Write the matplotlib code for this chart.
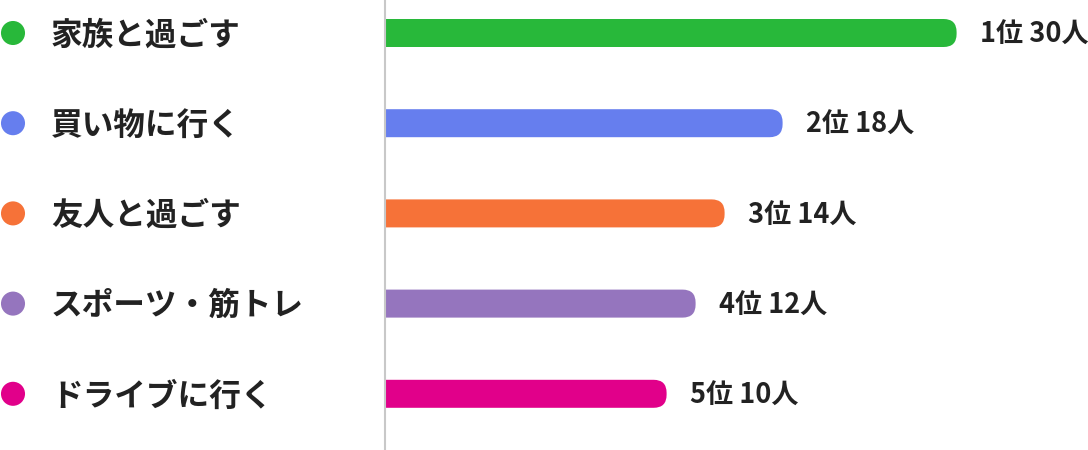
import matplotlib
matplotlib.use('Agg')
import matplotlib.pyplot as plt
from matplotlib import transforms
from matplotlib.patches import FancyBboxPatch

plt.rcParams['font.family'] = ['Noto Sans CJK JP', 'DejaVu Sans']

# data
activities = ['家族と過ごす', '買い物に行く', '友人と過ごす', 'スポーツ・筋トレ', 'ドライブに行く']
counts = [30, 18, 14, 12, 10]
ranks = [1, 2, 3, 4, 5]
colors = ['#28b83a', '#667eee', '#f67238', '#9575be', '#e1008a']

W, H, DPI = 1088, 450, 100
px_per_unit = 14.5      # horizontal scale of the bars
zero_px = 521.6         # pixel position of value 0
row_px = 90.2           # spacing of rows
first_row_px = 33       # centre of first row from top
line_px = 385           # left edge of the bar area

fig = plt.figure(figsize=(W / DPI, H / DPI), dpi=DPI)
ax = fig.add_axes([line_px / W, 0, 1 - line_px / W, 1])
x0 = (line_px - zero_px) / px_per_unit
x1 = (W - zero_px) / px_per_unit
ax.set_xlim(x0, x1)
ax.set_ylim((H - first_row_px) / row_px, -first_row_px / row_px)
ax.axis('off')

bar_h = 28 / row_px
radius = 13 / px_per_unit
aspect = (1 / row_px) / (1 / px_per_unit)

for i, (v, c) in enumerate(zip(counts, colors)):
    # start left of the axes so only the right end shows rounded
    left = x0 - 2 * radius
    p = FancyBboxPatch((left, i - bar_h / 2), v - left, bar_h,
                       boxstyle='round,pad=0,rounding_size=%f' % radius,
                       mutation_aspect=aspect, fc=c, ec='none')
    ax.add_patch(p)
    ax.annotate('%d位 %d人' % (ranks[i], v), xy=(v, i), xytext=(17, -1.5),
                textcoords='offset points', va='center', ha='left',
                fontsize=19.5, fontweight='bold', color='#222222')

# grey axis line
ax.axvline(x0, color='#c8c8c8', lw=1.5, clip_on=False)

# left legend: dots and labels
blend = transforms.blended_transform_factory(fig.transFigure, ax.transData)
rows = list(range(len(activities)))
ax.scatter([13 / W] * len(rows), rows, s=300, c=colors, transform=blend,
           clip_on=False, linewidths=0)
for i, name in enumerate(activities):
    ax.text(51 / W, i + 0.03, name, transform=blend, va='center', ha='left',
            fontsize=22.8, fontweight='bold', color='#222222')

fig.savefig('out.png', dpi=DPI)
